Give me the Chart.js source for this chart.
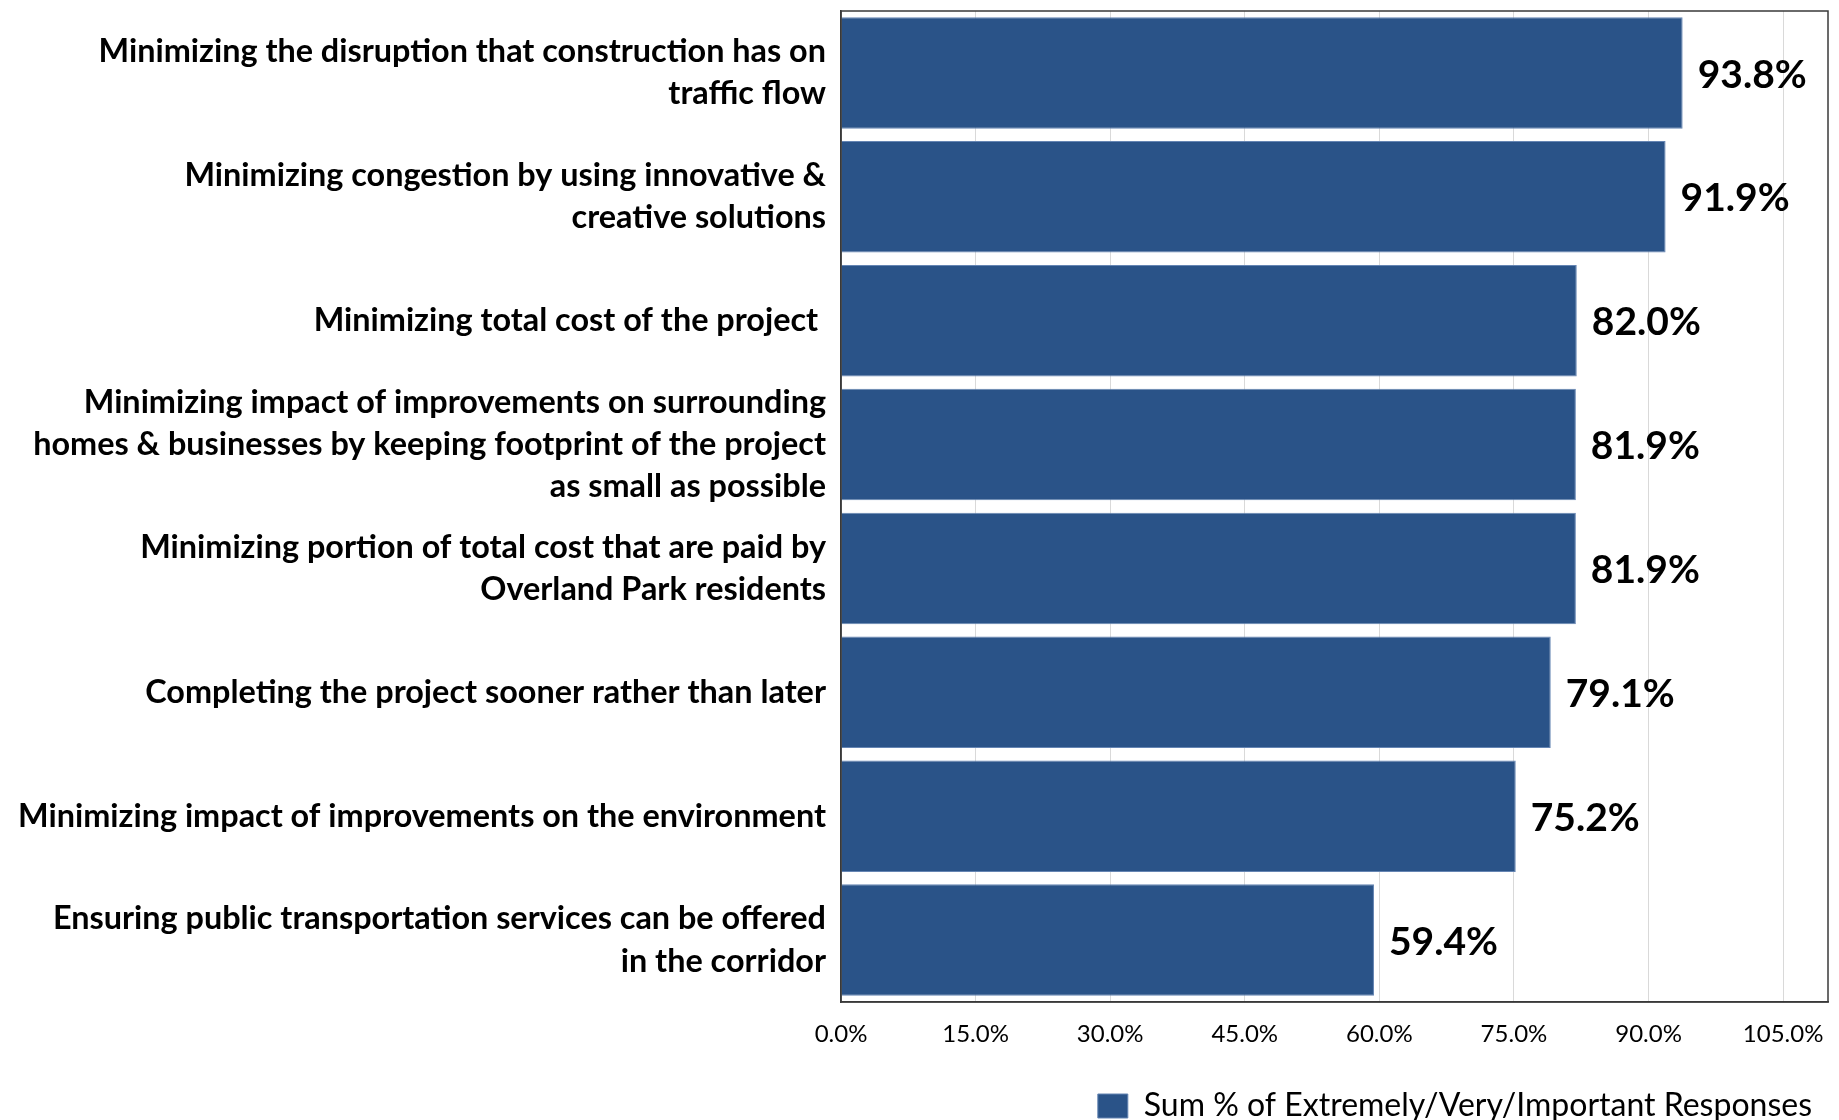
<!DOCTYPE html>
<html>
<head>
<meta charset="utf-8">
<title>Importance of project goals</title>
<script src="https://cdn.jsdelivr.net/npm/chart.js@4.4.1/dist/chart.umd.min.js"></script>
<style>
  html, body { margin: 0; padding: 0; background: #ffffff; }
  #wrap { width: 1839px; height: 1120px; }
</style>
</head>
<body>
<div id="wrap"><canvas id="goalsChart" width="1839" height="1120"></canvas></div>
<script>
// categories, wrapped the same way as the original
var goalLabels = [
    ["Minimizing the disruption that construction has on", "traffic flow"],
    ["Minimizing congestion by using innovative &", "creative solutions"],
    ["Minimizing total cost of the project "],
    ["Minimizing impact of improvements on surrounding", "homes & businesses by keeping footprint of the project", "as small as possible"],
    ["Minimizing portion of total cost that are paid by", "Overland Park residents"],
    ["Completing the project sooner rather than later"],
    ["Minimizing impact of improvements on the environment"],
    ["Ensuring public transportation services can be offered", "in the corridor"]
];
var sumImportant = [93.8, 91.9, 82.0, 81.9, 81.9, 79.1, 75.2, 59.4];
var seriesName = "Sum % of Extremely/Very/Important Responses";
var axisTicks = [0, 15, 30, 45, 60, 75, 90, 105];
var axisMax = 110;

var FONT = "Lato, 'Open Sans', sans-serif";

// writes the value next to the end of every bar
var barValueLabels = {
    id: "barValueLabels",
    afterDatasetsDraw: function(chart) {
        var ctx = chart.ctx;
        var meta = chart.getDatasetMeta(0);
        ctx.save();
        ctx.font = "bold 39px " + FONT;
        ctx.fillStyle = "#000000";
        ctx.textAlign = "left";
        ctx.textBaseline = "middle";
        meta.data.forEach(function(bar, i) {
            ctx.fillText(sumImportant[i].toFixed(1) + "%", bar.x + 15, bar.y + 2);
        });
        ctx.restore();
    }
};

// box round the plot area
var plotFrame = {
    id: "plotFrame",
    afterDraw: function(chart) {
        var a = chart.chartArea;
        var ctx = chart.ctx;
        ctx.save();
        ctx.strokeStyle = "#3a3a3a";
        ctx.lineWidth = 1.5;
        ctx.strokeRect(a.left, a.top, a.right - a.left, a.bottom - a.top);
        ctx.restore();
    }
};

document.addEventListener('DOMContentLoaded', function(event) {
    Chart.defaults.font.family = FONT;
    Chart.defaults.color = "#000000";

    var ctx = document.getElementById("goalsChart").getContext("2d");
    new Chart(ctx, {
        type: "bar",
        data: {
            labels: goalLabels,
            datasets: [{
                label: seriesName,
                data: sumImportant,
                backgroundColor: "#2A5388",
                borderColor: "#6585B3",
                borderWidth: 1,
                barPercentage: 0.9,
                categoryPercentage: 1.0
            }]
        },
        options: {
            indexAxis: "y",
            responsive: false,
            animation: false,
            devicePixelRatio: 1,
            layout: {
                padding: { left: 0, right: 11, top: 11, bottom: -12 }
            },
            plugins: {
                tooltip: { enabled: false },
                legend: {
                    position: "bottom",
                    align: "end",
                    labels: {
                        boxWidth: 30,
                        boxHeight: 24,
                        padding: 16,
                        color: "#000000",
                        font: { size: 32, family: FONT }
                    }
                }
            },
            scales: {
                x: {
                    min: 0,
                    max: axisMax,
                    afterBuildTicks: function(scale) {
                        scale.ticks = axisTicks.map(function(v) { return { value: v }; });
                    },
                    afterFit: function(scale) {
                        scale.height = 72;
                        scale.paddingLeft = 0;
                        scale.paddingRight = 0;
                    },
                    grid: {
                        color: "#D9D9D9",
                        lineWidth: 1,
                        drawTicks: false
                    },
                    border: { display: true, color: "#3a3a3a", width: 1.5 },
                    ticks: {
                        padding: 18,
                        maxRotation: 0,
                        font: { size: 24, family: FONT },
                        color: "#000000",
                        callback: function(value) { return value.toFixed(1) + "%"; }
                    }
                },
                y: {
                    afterFit: function(scale) {
                        scale.width = 841;
                        scale.paddingTop = 0;
                        scale.paddingBottom = 0;
                    },
                    grid: { display: false, drawTicks: false },
                    border: { display: true, color: "#3a3a3a", width: 1.5 },
                    ticks: {
                        padding: 15,
                        autoSkip: false,
                        color: "#000000",
                        font: { size: 32.4, weight: "bold", family: FONT, lineHeight: 1.3 }
                    }
                }
            }
        },
        plugins: [barValueLabels, plotFrame]
    });
});
</script>
</body>
</html>
